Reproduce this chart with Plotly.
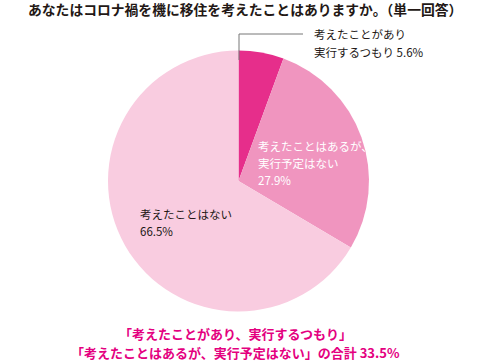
import plotly.graph_objects as go

labels = ["考えたことがあり実行するつもり", "考えたことはあるが、実行予定はない", "考えたことはない"]
values = [5.6, 27.9, 66.5]
colors = ["#E62E8B", "#F095BF", "#F9CCE0"]

FONT = "Noto Sans CJK JP"
W, H = 489, 364

def px(x):
    return x / W

def py(y):
    return 1 - y / H

fig = go.Figure(go.Pie(
    labels=labels, values=values, sort=False, direction="clockwise", rotation=0,
    marker=dict(colors=colors, line=dict(width=0)),
    textinfo="none", hoverinfo="label+percent", showlegend=False,
    domain=dict(x=[px(108), px(369)], y=[py(313), py(49)]),
))

ann = []
ann.append(dict(x=px(245), y=py(9), text="<b>あなたはコロナ禍を機に移住を考えたことはありますか。（単一回答）</b>",
                font=dict(size=13.8, color="#231815", family=FONT), borderpad=0))
ann.append(dict(x=px(312), y=py(34), text="考えたことがあり", xanchor="left",
                font=dict(size=11.5, color="#231815", family=FONT)))
ann.append(dict(x=px(312), y=py(52), text=f"実行するつもり {values[0]}%", xanchor="left",
                font=dict(size=11.5, color="#231815", family=FONT)))
for i, t in enumerate(["考えたことはあるが、", "実行予定はない", f"{values[1]}%"]):
    ann.append(dict(x=px(256), y=py(146 + 17 * i), text=t, xanchor="left",
                    font=dict(size=11.5, color="white", family=FONT)))
for i, t in enumerate(["考えたことはない", f"{values[2]}%"]):
    ann.append(dict(x=px(138), y=py(214 + 17 * i), text=t, xanchor="left",
                    font=dict(size=11.5, color="#231815", family=FONT)))
total = round(values[0] + values[1], 1)
ann.append(dict(x=px(235), y=py(333), text="<b>「考えたことがあり、実行するつもり」</b>",
                font=dict(size=13, color="#E4007F", family=FONT)))
ann.append(dict(x=px(235), y=py(352), text=f"<b>「考えたことはあるが、実行予定はない」の合計 {total}%</b>",
                font=dict(size=13, color="#E4007F", family=FONT)))
for a in ann:
    a.update(xref="paper", yref="paper", showarrow=False, yanchor="middle")
    a.setdefault("xanchor", "center")

shapes = [
    dict(type="path", xref="paper", yref="paper",
         path=f"M {px(239)} {py(60)} L {px(239)} {py(34)} L {px(303)} {py(34)}",
         line=dict(color="#777777", width=1)),
]

fig.update_layout(width=W, height=H, margin=dict(l=0, r=0, t=0, b=0),
                  paper_bgcolor="white", plot_bgcolor="white",
                  annotations=ann, shapes=shapes, font=dict(family=FONT))
fig.write_html("out.html", config={"displayModeBar": False},
               post_script="document.body.style.margin='0';document.body.style.overflow='hidden';")
